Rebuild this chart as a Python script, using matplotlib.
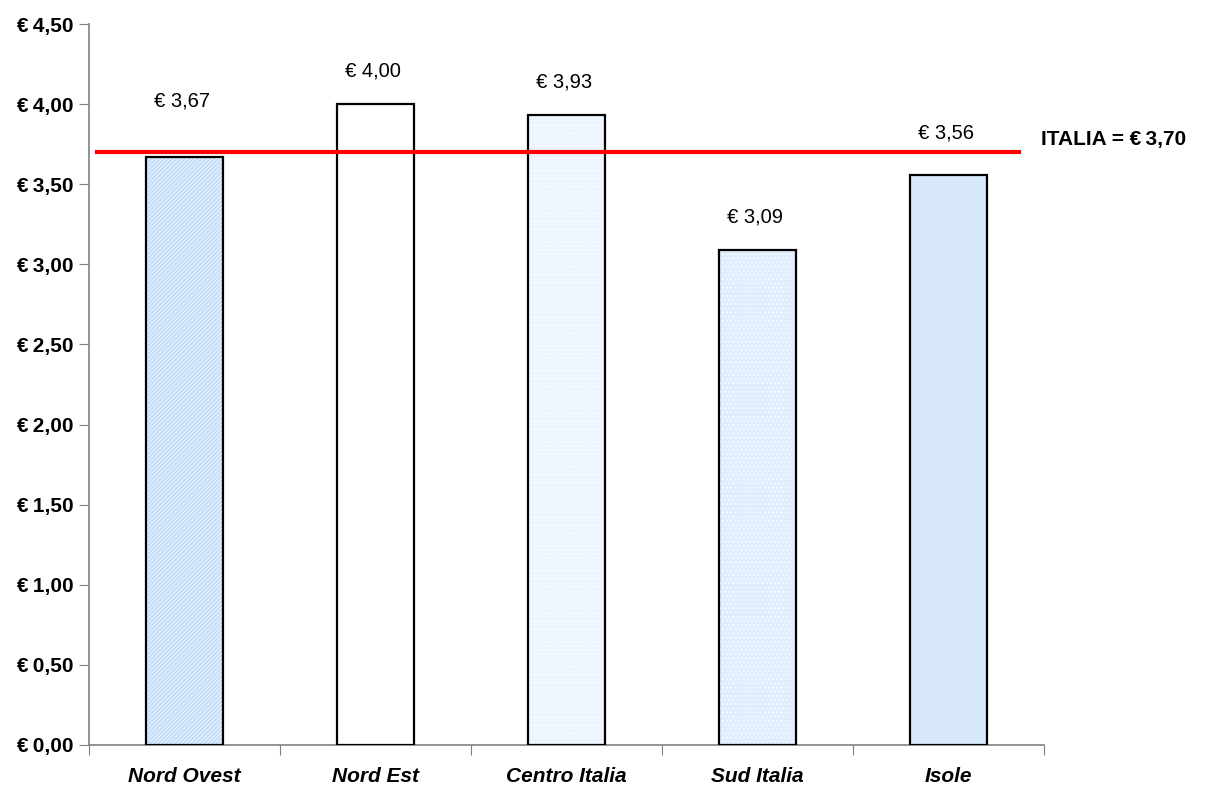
"""Prezzo medio per area geografica, con la media nazionale come riferimento."""

import matplotlib.pyplot as plt

plt.rcParams['font.family'] = ['Liberation Sans', 'DejaVu Sans']
plt.rcParams['hatch.linewidth'] = 0.5

aree = ["Nord Ovest", "Nord Est", "Centro Italia", "Sud Italia", "Isole"]
prezzi = [3.67, 4.00, 3.93, 3.09, 3.56]
media_italia = 3.70
y_ticks = [0.0, 0.5, 1.0, 1.5, 2.0, 2.5, 3.0, 3.5, 4.0, 4.5]

# fill colour and texture of each bar
colori = ["#c4ddf8", "#ffffff", "#ecf4fd", "#e0edfc", "#d8e8fb"]
trame = ["////////", None, "....", "....", None]
# vertical distance of each value label above its bar (points)
offset_etichette = [40, 24, 24, 24, 30]


def euro(v, sep="\u2009"):
    return "€" + sep + f"{v:.2f}".replace(".", ",")


fig = plt.figure(figsize=(12.13, 7.85), dpi=100)
ax = fig.add_axes([0.0734, 0.051, 0.7873, 0.9184])

x = range(len(aree))
for xi, v, c, t in zip(x, prezzi, colori, trame):
    ax.bar(xi, v, width=0.4, color=c, edgecolor="white",
           linewidth=0, hatch=t, zorder=2)
ax.bar(x, prezzi, width=0.4, fill=False, edgecolor="black",
       linewidth=1.6, zorder=3)

for xi, v, off in zip(x, prezzi, offset_etichette):
    ax.annotate(euro(v, " "), (xi, v), xytext=(-2, off),
                textcoords="offset points", ha="center", va="center",
                fontsize=14.5, zorder=5)

# linea della media nazionale
ax.plot([-0.458, 4.37], [media_italia, media_italia], color="#ff0000",
        linewidth=3, clip_on=False, zorder=4)
ax.annotate("ITALIA = " + euro(media_italia), (0.997, media_italia),
            xycoords=ax.get_yaxis_transform(), xytext=(0, 9),
            textcoords="offset points", ha="left", va="center",
            fontsize=15, fontweight="bold", annotation_clip=False)

ax.set_xlim(-0.5, len(aree) - 0.5)
ax.set_ylim(0, 4.5)
ax.set_yticks(y_ticks)
ax.set_yticklabels([euro(v) for v in y_ticks], fontsize=15,
                   fontweight="bold")
ax.set_xticks([i + 0.5 for i in range(-1, len(aree))])
ax.set_xticklabels([])
ax.set_xticks(list(x), minor=True)
ax.set_xticklabels(aree, minor=True, fontsize=15, fontweight="bold",
                   fontstyle="italic")
ax.tick_params(axis="x", which="minor", length=0, pad=16)
ax.tick_params(axis="x", which="major", length=7, color="#808080")
ax.tick_params(axis="y", length=7, color="#808080", pad=4)

for s in ("top", "right"):
    ax.spines[s].set_visible(False)
for s in ("left", "bottom"):
    ax.spines[s].set_color("#808080")
    ax.spines[s].set_linewidth(1.2)

fig.savefig("out.png", dpi=100)
